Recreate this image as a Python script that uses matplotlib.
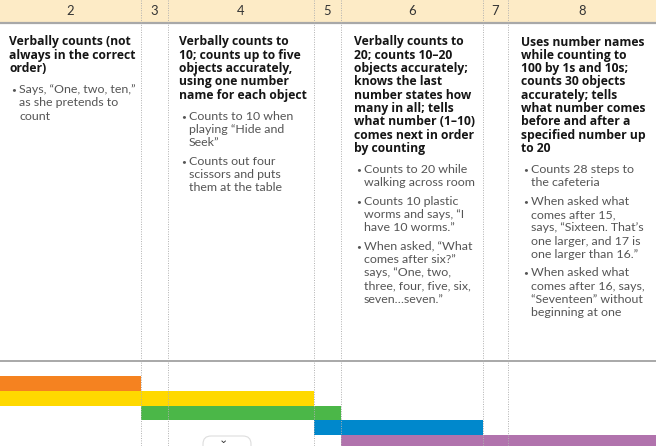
import matplotlib
matplotlib.use("Agg")
import matplotlib.pyplot as plt
from matplotlib.patches import Rectangle, FancyBboxPatch

# ages shown in the header row
ages = ["2", "3", "4", "5", "6", "7", "8"]

# text for the wide columns
headings = {
    "2": ["Verbally counts (not", "always in the correct", "order)"],
    "4": ["Verbally counts to", "10; counts up to five", "objects accurately,",
          "using one number", "name for each object"],
    "6": ["Verbally counts to", "20; counts 10\u201320", "objects accurately;",
          "knows the last", "number states how", "many in all; tells",
          "what number (1\u201310)", "comes next in order", "by counting"],
    "8": ["Uses number names", "while counting to", "100 by 1s and 10s;",
          "counts 30 objects", "accurately; tells", "what number comes",
          "before and after a", "specified number up", "to 20"],
}
examples = {
    "2": [["Says, \u201cOne, two, ten,\u201d", "as she pretends to", "count"]],
    "4": [["Counts to 10 when", "playing \u201cHide and", "Seek\u201d"],
          ["Counts out four", "scissors and puts", "them at the table"]],
    "6": [["Counts to 20 while", "walking across room"],
          ["Counts 10 plastic", "worms and says, \u201cI", "have 10 worms.\u201d"],
          ["When asked, \u201cWhat", "comes after six?\u201d", "says, \u201cOne, two,",
           "three, four, five, six,", "seven\u2026seven.\u201d"]],
    "8": [["Counts 28 steps to", "the cafeteria"],
          ["When asked what", "comes after 15,", "says, \u201cSixteen. That\u2019s",
           "one larger, and 17 is", "one larger than 16.\u201d"],
          ["When asked what", "comes after 16, says,", "\u201cSeventeen\u201d without",
           "beginning at one"]],
}

# progression bands: first and last column each one spans
band_start = [0, 0, 1, 3, 4]
band_end = [1, 3, 4, 5, 7]
band_colors = ["#f58220", "#ffd900", "#4bb748", "#0088cc", "#b173ad"]

# layout (pixels)
W, H = 656, 446
col_edges = [0, 141, 168, 314, 341, 483, 508, 656]
text_x = {"2": 9, "4": 179, "6": 354, "8": 521}
step = 13.3

fig = plt.figure(figsize=(W / 100, H / 100), dpi=100)
ax = fig.add_axes([0, 0, 1, 1])
ax.set_xlim(0, W)
ax.set_ylim(H, 0)
ax.axis("off")

# header band
ax.add_patch(Rectangle((0, 0), W, 22, facecolor="#fdebc6", edgecolor="none", zorder=1))
ax.plot([0, W], [22.5, 22.5], color="#a8a8a8", lw=1.6, zorder=3)
for i, a in enumerate(ages):
    cx = (col_edges[i] + col_edges[i + 1]) / 2
    ax.text(cx, 11, a, ha="center", va="center", fontsize=9.4,
            family="Lato", color="#333333", zorder=4)

# dotted column dividers
for x in col_edges[1:-1]:
    ax.plot([x, x], [0, H], color="#b0b0b0", lw=0.7, ls=(0, (1, 1.5)), zorder=5)

# column texts
for key, lines in headings.items():
    x0 = text_x[key]
    y = 42
    for ln in lines:
        ax.text(x0, y, ln, ha="left", va="center", fontsize=8.7, weight="bold",
                family="Open Sans", color="#151515", zorder=4)
        y += step
    y += 21 - step
    for item in examples[key]:
        ax.text(x0 + 2, y, "\u2022", ha="left", va="center", fontsize=6,
                family="Lato", color="#555555", zorder=4)
        for ln in item:
            ax.text(x0 + 10, y, ln, ha="left", va="center", fontsize=8.9,
                    weight="normal", family="Lato", color="#555555", zorder=4)
            y += step
        y += 18.5 - step

# bottom separator
ax.plot([0, W], [360.5, 360.5], color="#a8a8a8", lw=1.4, zorder=3)

# bands
row_h = 14.8
for r, (s, e, c) in enumerate(zip(band_start, band_end, band_colors)):
    left = col_edges[s]
    right = col_edges[e]
    ax.barh(376 + r * row_h + row_h / 2, right - left, left=left, height=row_h,
            color=c, edgecolor="none", zorder=2)

# small tab at the bottom
ax.add_patch(FancyBboxPatch((203, 436), 48, 20, boxstyle="round,pad=0,rounding_size=8",
                            facecolor="white", edgecolor="#dddddd", lw=0.8, zorder=6))
ax.text(223, 440, "\u2304", ha="center", va="center", fontsize=8,
        family="DejaVu Sans", color="#333333", zorder=7)

fig.savefig("out.png", dpi=100)
